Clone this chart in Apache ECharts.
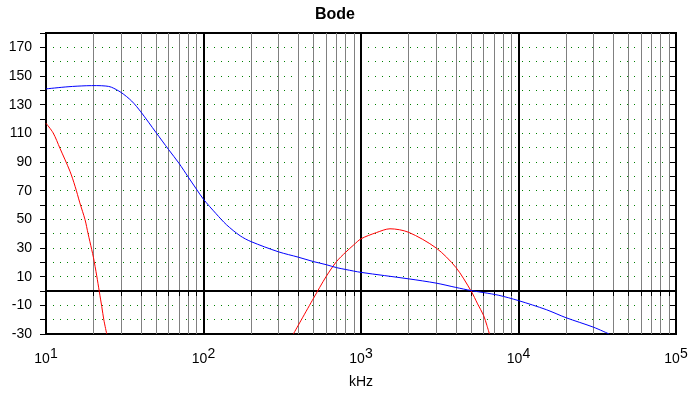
<!DOCTYPE html>
<html>
<head>
<meta charset="utf-8">
<script src="https://cdn.jsdelivr.net/npm/echarts@6/dist/echarts.min.js"></script>
<style>
html,body{margin:0;padding:0;background:#fff;}
#chart{width:692px;height:394px;}
</style>
</head>
<body>
<div id="chart"></div>
<script>
// ---- data (frequency in kHz, value) ----
const blueFreq = [10, 13.8, 18, 21, 24, 26, 30, 35, 40, 50, 60, 70, 80, 90, 100, 120, 140, 171, 200, 300, 400, 500, 600, 700, 800, 1000, 2000, 3000, 4000, 5000, 6000, 7500, 10000, 15000, 20000, 30000, 37600];
const blueVal  = [141, 142.5, 143.2, 143.3, 143, 142.2, 138.5, 132.5, 125, 110.5, 98.7, 89, 79.5, 71.2, 64, 54, 46.2, 38.5, 34.5, 27.3, 23.6, 20.5, 18.4, 16.3, 15, 13, 8.5, 5.5, 2.5, 0.3, -1.1, -3, -6.7, -13, -18.6, -25.3, -30];

const redLeftFreq = [10, 11.1, 12.27, 14.2, 15.3, 16.4, 17.7, 18.5, 19.5, 20, 21, 21.8, 22.6, 23.3, 24.3];
const redLeftVal  = [117, 110.3, 99.5, 83.5, 73, 61.5, 49.7, 40, 29, 23.5, 10.5, -0.4, -10.9, -20.2, -30];

const redHumpFreq = [372, 500, 600, 700, 800, 900, 1000, 1256, 1528, 2000, 3000, 4000, 5000, 5500, 6000, 6300, 6540];
const redHumpVal  = [-30, -5, 10, 20.6, 27.1, 32.2, 36.4, 40.8, 43.4, 41, 30, 16.5, 0, -9, -17, -24, -30];

const yMin = -30, yMax = 180, yStep = 10;
const xMin = 10, xMax = 100000;
const titleText = 'Bode';
const xName = 'kHz';

function pairs(xs, ys) { return xs.map((x, i) => [x, ys[i]]); }
const redData = pairs(redLeftFreq, redLeftVal).concat([[null, null]]).concat(pairs(redHumpFreq, redHumpVal));

const FONT = 'Liberation Sans';
const nLines = Math.round((yMax - yMin) / yStep) + 1;
const splitColors = [];
const zeroColors = [];
for (let i = 0; i < nLines; i++) {
  const v = yMin + i * yStep;
  splitColors.push((i === 0 || i === nLines - 1 || v === 0) ? 'rgba(0,0,0,0)' : '#008000');
  zeroColors.push(v === 0 ? '#000' : 'rgba(0,0,0,0)');
}

const chart = echarts.init(document.getElementById('chart'), null, {renderer: 'canvas'});
chart.setOption({
  animation: false,
  backgroundColor: '#fff',
  title: {
    text: titleText, left: 310, top: 2,
    textStyle: {fontFamily: FONT, fontSize: 16, fontWeight: 'bold', color: '#000'}
  },
  grid: {left: 46, right: 16, top: 33, bottom: 60, show: true, borderColor: '#000', borderWidth: 2, backgroundColor: 'rgba(0,0,0,0)'},
  xAxis: {
    type: 'log', logBase: 10, min: xMin, max: xMax,
    name: xName, nameLocation: 'middle', nameGap: 41,
    nameTextStyle: {fontFamily: FONT, fontSize: 14, color: '#000'},
    axisLine: {show: true, lineStyle: {color: '#000', width: 2}},
    axisTick: {show: true, length: 5, lineStyle: {color: '#000', width: 1}},
    minorTick: {show: true, splitNumber: 9, length: 5, lineStyle: {color: '#000', width: 1}},
    splitLine: {show: true, lineStyle: {color: '#000', width: 2}},
    minorSplitLine: {show: true, lineStyle: {color: '#808080', width: 1}},
    axisLabel: {
      margin: 13,
      formatter: function (v) { return '{b|10}{s|' + Math.round(Math.log10(v)) + '}'; },
      rich: {
        b: {fontFamily: FONT, fontSize: 14, color: '#000', lineHeight: 19, verticalAlign: 'bottom'},
        s: {fontFamily: FONT, fontSize: 14, color: '#000', lineHeight: 19, verticalAlign: 'top'}
      }
    }
  },
  yAxis: [{
    type: 'value', min: yMin, max: yMax, interval: yStep,
    axisLine: {show: true, lineStyle: {color: '#000', width: 2}},
    axisTick: {show: true, length: 6, lineStyle: {color: '#000', width: 1}},
    splitLine: {show: true, lineStyle: {color: splitColors, width: 1, type: [1, 6]}},
    axisLabel: {
      margin: 14, fontFamily: FONT, fontSize: 14, color: '#000',
      formatter: function (v) { return ((v - yMin) % (2 * yStep) === 0) ? String(v) : ''; }
    }
  }, {
    type: 'value', min: yMin, max: yMax, interval: yStep, position: 'right',
    axisLine: {show: true, lineStyle: {color: '#000', width: 2}},
    axisTick: {show: true, inside: true, length: 6, lineStyle: {color: '#000', width: 1}},
    splitLine: {show: false},
    axisLabel: {show: false}
  }, {
    type: 'value', min: yMin, max: yMax, interval: yStep, position: 'left',
    axisLine: {show: false}, axisTick: {show: false}, axisLabel: {show: false},
    splitLine: {show: true, lineStyle: {color: zeroColors, width: 1, type: 'solid'}}
  }],
  series: [{
    type: 'line', name: 'blue', data: pairs(blueFreq, blueVal),
    showSymbol: false, symbol: 'none', smooth: 0.3,
    lineStyle: {color: '#0000ff', width: 1}, z: 5
  }, {
    type: 'line', name: 'red', data: redData, connectNulls: false,
    showSymbol: false, symbol: 'none', smooth: 0.3,
    lineStyle: {color: '#ff0000', width: 1}, z: 4
  }]
});
</script>
</body>
</html>
